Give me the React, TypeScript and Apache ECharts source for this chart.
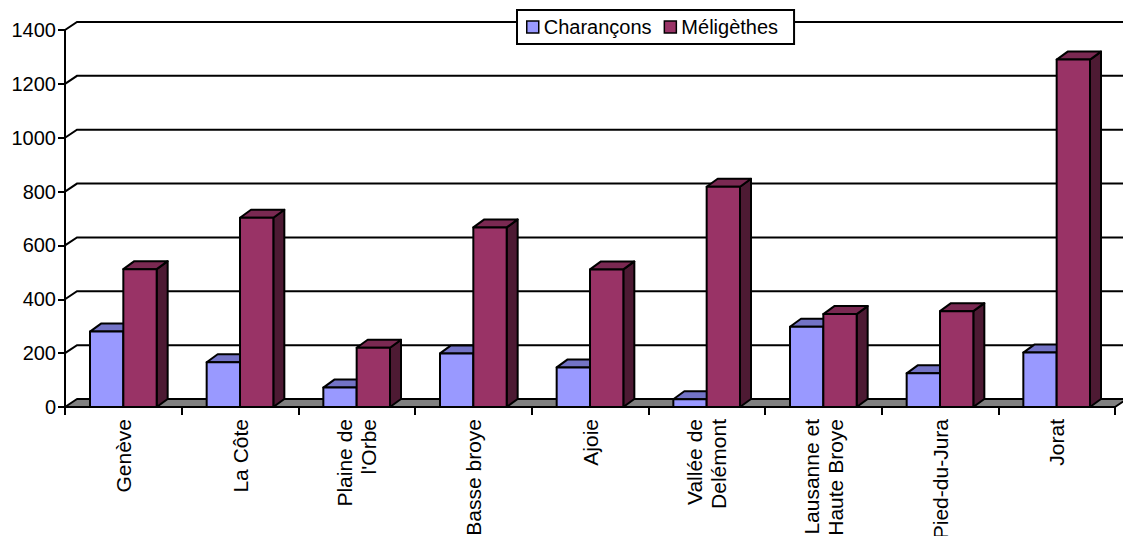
import React, { useEffect, useRef } from "react";
import * as echarts from "echarts";

const categories = [
  "Genève",
  "La Côte",
  "Plaine de\nl'Orbe",
  "Basse broye",
  "Ajoie",
  "Vallée de\nDelémont",
  "Lausanne et\nHaute Broye",
  "Pied-du-Jura",
  "Jorat",
];
const charancons = [280, 166, 72, 199, 147, 29, 298, 125, 202];
const meligethes = [512, 703, 220, 667, 511, 818, 345, 356, 1290];
const yTicks = [0, 200, 400, 600, 800, 1000, 1200, 1400];

const FONT = "'Liberation Sans', Arial, sans-serif";
const DX = 12;
const DY = -8;

const palettes = [
  { front: "#9999FF", top: "#7373C6", side: "#5C5C99" },
  { front: "#993366", top: "#7A2952", side: "#4D1A33" },
];

function barRenderer(sIdx: number) {
  const pal = palettes[sIdx];
  return (params: any, api: any) => {
    const cat = api.value(0);
    const val = api.value(1);
    const top = api.coord([cat, val]);
    const base = api.coord([cat, 0]);
    const band = api.size([1, 0])[0];
    const w = band / 3.5;
    const cx = top[0];
    const x0 = sIdx === 0 ? cx - w : cx;
    const x1 = x0 + w;
    const y1 = top[1];
    const y0 = base[1];
    const dx = 11;
    const dy = -8;
    const st = { stroke: "#000", lineWidth: 2, lineJoin: "round" };
    return {
      type: "group",
      children: [
        {
          type: "polygon",
          shape: { points: [[x1, y0], [x1 + dx, y0 + dy], [x1 + dx, y1 + dy], [x1, y1]] },
          style: { fill: pal.side, ...st },
        },
        {
          type: "polygon",
          shape: { points: [[x0, y1], [x0 + dx, y1 + dy], [x1 + dx, y1 + dy], [x1, y1]] },
          style: { fill: pal.top, ...st },
        },
        {
          type: "rect",
          shape: { x: x0, y: y1, width: w, height: y0 - y1 },
          style: { fill: pal.front, ...st },
        },
      ],
    };
  };
}

function frameRenderer(params: any, api: any) {
  const v = api.value(1);
  const cs = params.coordSys;
  const xL = cs.x;
  const xR = cs.x + cs.width;
  const y = api.coord([0, v])[1];
  if (v === 0) {
    return {
      type: "polygon",
      shape: { points: [[xL, y], [xL + DX, y + DY], [xR + DX, y + DY], [xR, y]] },
      style: { fill: "#808080", stroke: "#000", lineWidth: 2, lineJoin: "round" },
    };
  }
  return {
    type: "polyline",
    shape: { points: [[xL, y], [xL + DX, y + DY], [xR + DX, y + DY]] },
    style: { fill: "none", stroke: "#000", lineWidth: 2 },
  };
}

export default function App() {
  const ref = useRef<HTMLDivElement>(null);
  useEffect(() => {
    if (!ref.current) return;
    const chart = echarts.init(ref.current, undefined, { renderer: "svg" });
    chart.setOption({
      animation: false,
      backgroundColor: "#fff",
      textStyle: { fontFamily: FONT },
      grid: {
        left: 65,
        right: 8,
        top: 30,
        bottom: 129,
        containLabel: false,
        outerBoundsMode: "none",
      },
      legend: {
        left: 517,
        top: 10,
        itemWidth: 12,
        itemHeight: 12,
        itemGap: 12,
        padding: [7, 16, 7, 9],
        backgroundColor: "#fff",
        borderColor: "#000",
        borderWidth: 2,
        borderRadius: 0,
        icon: "rect",
        textStyle: { fontSize: 20, color: "#000", fontFamily: FONT },
        data: [
          { name: "Charançons", itemStyle: { color: palettes[0].front, borderColor: "#000", borderWidth: 1.5 } },
          { name: "Méligèthes", itemStyle: { color: palettes[1].front, borderColor: "#000", borderWidth: 1.5 } },
        ],
      },
      xAxis: {
        type: "category",
        data: categories,
        boundaryGap: true,
        axisLine: { show: true, lineStyle: { color: "#000", width: 2 } },
        axisTick: { show: true, interval: 0, length: 8, lineStyle: { color: "#000", width: 2 } },
        axisLabel: {
          interval: 0,
          rotate: 90,
          margin: 12,
          fontSize: 21,
          lineHeight: 24,
          color: "#000",
          fontFamily: FONT,
        },
        splitLine: { show: false },
      },
      yAxis: {
        type: "value",
        min: 0,
        max: 1400,
        interval: 200,
        axisLine: { show: true, lineStyle: { color: "#000", width: 2 } },
        axisTick: { show: true, length: 7, lineStyle: { color: "#000", width: 2 } },
        axisLabel: {
          fontSize: 20,
          color: "#000",
          margin: 9,
          fontFamily: FONT,
          formatter: (v: number) => String(v),
        },
        splitLine: { show: false },
      },
      series: [
        {
          type: "custom",
          name: "frame",
          z: 1,
          silent: true,
          renderItem: frameRenderer,
          data: yTicks.map((v) => [0, v]),
          encode: { x: 0, y: 1 },
        },
        {
          type: "custom",
          name: "Charançons",
          z: 3,
          itemStyle: { color: palettes[0].front },
          renderItem: barRenderer(0),
          data: charancons.map((v, i) => [i, v]),
          encode: { x: 0, y: 1 },
        },
        {
          type: "custom",
          name: "Méligèthes",
          z: 4,
          itemStyle: { color: palettes[1].front },
          renderItem: barRenderer(1),
          data: meligethes.map((v, i) => [i, v]),
          encode: { x: 0, y: 1 },
        },
      ],
    });
    return () => chart.dispose();
  }, []);
  return (
    <div
      ref={ref}
      style={{ position: "absolute", left: 0, top: 0, width: 1123, height: 536 }}
    />
  );
}
